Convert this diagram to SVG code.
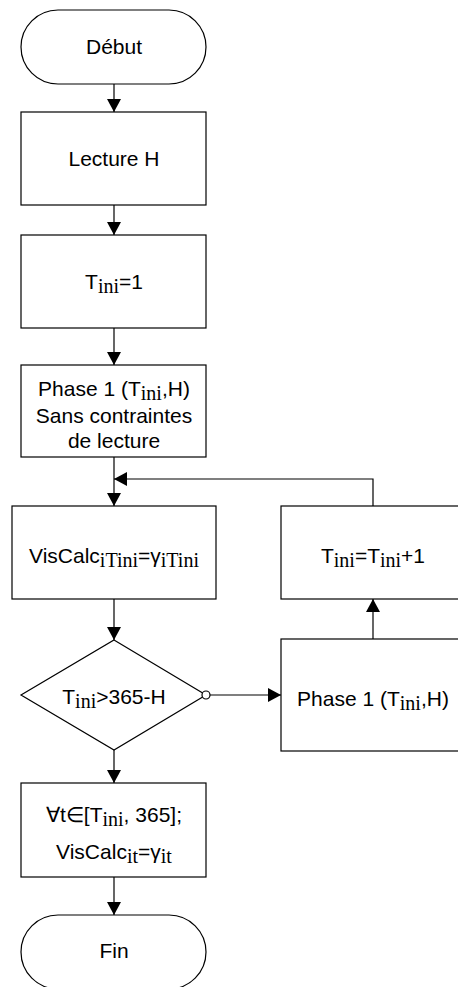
<svg xmlns="http://www.w3.org/2000/svg" width="458" height="987" viewBox="0 0 458 987">
<style>
.s{fill:#fff;stroke:#000;stroke-width:1.2}
.t{font-family:"Liberation Sans",Arial,sans-serif;font-size:21px;fill:#000;text-anchor:middle}
.sub{font-family:"Liberation Serif","Times New Roman",serif;font-size:20px}
.c{stroke:#000;stroke-width:1.2;fill:none}
</style>
<defs>
<marker id="ah" viewBox="0 0 13 14" refX="13" refY="7" markerWidth="13" markerHeight="14" markerUnits="userSpaceOnUse" orient="auto">
<path d="M0,0 L13,7 L0,14 Z" fill="#000"/>
</marker>
</defs>
<rect width="458" height="987" fill="#fff"/>
<g id="connectors">
<line class="c" x1="114" y1="84" x2="114" y2="112" marker-end="url(#ah)"/>
<line class="c" x1="114" y1="205" x2="114" y2="235" marker-end="url(#ah)"/>
<line class="c" x1="114" y1="328" x2="114" y2="365" marker-end="url(#ah)"/>
<line class="c" x1="114" y1="457" x2="114" y2="506" marker-end="url(#ah)"/>
<polyline class="c" points="373,506 373,479 114,479" marker-end="url(#ah)"/>
<line class="c" x1="114" y1="599" x2="114" y2="640" marker-end="url(#ah)"/>
<line class="c" x1="210" y1="695" x2="281" y2="695" marker-end="url(#ah)"/>
<line class="c" x1="373" y1="639" x2="373" y2="599" marker-end="url(#ah)"/>
<line class="c" x1="114" y1="750" x2="114" y2="783" marker-end="url(#ah)"/>
<line class="c" x1="114" y1="877" x2="114" y2="915" marker-end="url(#ah)"/>
</g>
<g id="debut">
<rect class="s" x="21" y="10" width="185" height="74" rx="37" ry="37"/>
<text class="t" x="114" y="54">Début</text>
</g>
<g id="lecture">
<rect class="s" x="21" y="112" width="185" height="93"/>
<text class="t" x="114" y="166">Lecture H</text>
</g>
<g id="tini1">
<rect class="s" x="21" y="235" width="185" height="93"/>
<text class="t" x="114" y="289">T<tspan class="sub" dy="4">ini</tspan><tspan dy="-4">=1</tspan></text>
</g>
<g id="phase1a">
<rect class="s" x="21" y="365" width="185" height="92"/>
<text class="t" x="114" y="396">Phase 1 (T<tspan class="sub" dy="4">ini</tspan><tspan dy="-4">,H)</tspan></text>
<text class="t" x="114" y="423">Sans contraintes</text>
<text class="t" x="114" y="448">de lecture</text>
</g>
<g id="viscalc">
<rect class="s" x="12" y="506" width="204" height="93"/>
<text class="t" x="114" y="563">VisCalc<tspan class="sub" dy="4">iTini</tspan><tspan dy="-4">=γ</tspan><tspan class="sub" dy="4">iTini</tspan></text>
</g>
<g id="incr">
<rect class="s" x="281" y="506" width="185" height="93"/>
<text class="t" x="373" y="563">T<tspan class="sub" dy="4">ini</tspan><tspan dy="-4">=T</tspan><tspan class="sub" dy="4">ini</tspan><tspan dy="-4">+1</tspan></text>
</g>
<g id="decision">
<polygon class="s" points="114,640 206,695 114,750 21,695"/>
<circle class="s" cx="206" cy="695" r="4"/>
<text class="t" x="114" y="704">T<tspan class="sub" dy="4">ini</tspan><tspan dy="-4">&gt;365-H</tspan></text>
</g>
<g id="phase1b">
<rect class="s" x="281" y="639" width="185" height="112"/>
<text class="t" x="373" y="706">Phase 1 (T<tspan class="sub" dy="4">ini</tspan><tspan dy="-4">,H)</tspan></text>
</g>
<g id="final">
<rect class="s" x="21" y="783" width="185" height="94"/>
<text class="t" x="114" y="822">∀t∈[T<tspan class="sub" dy="4">ini</tspan><tspan dy="-4">, 365];</tspan></text>
<text class="t" x="114" y="859">VisCalc<tspan class="sub" dy="4">it</tspan><tspan dy="-4">=γ</tspan><tspan class="sub" dy="4">it</tspan></text>
</g>
<g id="fin">
<rect class="s" x="21" y="915" width="185" height="74" rx="37" ry="37"/>
<text class="t" x="114" y="958">Fin</text>
</g>
</svg>
